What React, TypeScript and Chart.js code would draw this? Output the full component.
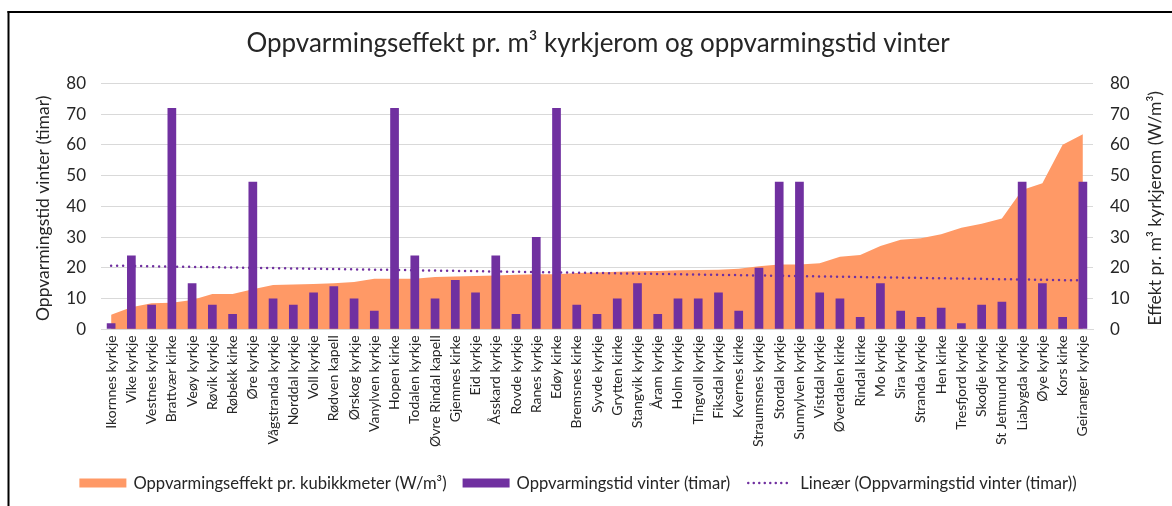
import React, { useEffect, useRef } from "react";
import { Chart, registerables } from "chart.js";

Chart.register(...registerables);

const categories = [
  "Ikornnes kyrkje", "Vike kyrkje", "Vestnes kyrkje", "Brattvær kirke", "Veøy kyrkje",
  "Røvik kyrkje", "Røbekk kirke", "Øre kyrkje", "Vågstranda kyrkje", "Norddal kyrkje",
  "Voll kyrkje", "Rødven kapell", "Ørskog kyrkje", "Vanylven kyrkje", "Hopen kirke",
  "Todalen kyrkje", "Øvre Rindal kapell", "Gjemnes kirke", "Eid kyrkje", "Åsskard kyrkje",
  "Rovde kyrkje", "Ranes kyrkje", "Edøy kirke", "Bremsnes kirke", "Syvde kyrkje",
  "Grytten kirke", "Stangvik kyrkje", "Åram kyrkje", "Holm kyrkje", "Tingvoll kyrkje",
  "Fiksdal kyrkje", "Kvernes kirke", "Straumsnes kyrkje", "Stordal kyrkje", "Sunnylven kyrkje",
  "Vistdal kyrkje", "Øverdalen kirke", "Rindal kirke", "Mo kyrkje", "Sira kyrkje",
  "Stranda kyrkje", "Hen kirke", "Tresfjord kyrkje", "Skodje kyrkje", "St Jetmund kyrkje",
  "Liabygda kyrkje", "Øye kyrkje", "Kors kirke", "Geiranger kyrkje",
];

const heatingHours = [
  2, 24, 8, 72, 15, 8, 5, 48, 10, 8,
  12, 14, 10, 6, 72, 24, 10, 16, 12, 24,
  5, 30, 72, 8, 5, 10, 15, 5, 10, 10,
  12, 6, 20, 48, 48, 12, 10, 4, 15, 6,
  4, 7, 2, 8, 9, 48, 15, 4, 48,
];

const effectPerM3 = [
  4.7, 7.2, 8.5, 8.6, 9.5, 11.5, 11.5, 13.0, 14.4, 14.6,
  14.7, 15.0, 15.4, 16.4, 16.4, 16.4, 17.0, 17.2, 17.3, 17.5,
  17.7, 17.9, 17.9, 18.3, 18.5, 18.7, 18.9, 19.0, 19.2, 19.3,
  19.4, 19.7, 20.5, 21.1, 21.1, 21.5, 23.6, 24.2, 27.1, 29.1,
  29.6, 30.9, 33.0, 34.3, 36.0, 45.3, 47.5, 60.0, 63.4,
];

// Linear trendline end values (first and last category)
const trendEnds = [20.7, 15.9];

const titleText = "Oppvarmingseffekt pr. m³ kyrkjerom og oppvarmingstid vinter";
const leftAxisTitle = "Oppvarmingstid vinter (timar)";
const rightAxisTitle = "Effekt pr. m³ kyrkjerom (W/m³)";
const seriesNames = [
  "Oppvarmingseffekt pr. kubikkmeter (W/m³)",
  "Oppvarmingstid vinter (timar)",
  "Lineær (Oppvarmingstid vinter (timar))",
];
const axisMin = 0;
const axisMax = 80;
const axisStep = 10;

const ORANGE = "#FF9966";
const PURPLE = "#7030A0";
const TEXT = "#262626";
const GRID = "#d9d9d9";
const FONT = 'Lato, "Open Sans", sans-serif';

const decor = {
  id: "decor",
  beforeDraw(chart: any) {
    const ctx = chart.ctx;
    ctx.save();
    ctx.fillStyle = "#ffffff";
    ctx.fillRect(0, 0, chart.width, chart.height);
    ctx.fillStyle = "#000000";
    ctx.fillRect(7.5, 11, chart.width - 7.5, 2);
    ctx.fillRect(7.5, 11, 2, chart.height - 11);
    ctx.restore();
  },
  afterDraw(chart: any) {
    const { ctx, chartArea } = chart;
    const cy = (chartArea.top + chartArea.bottom) / 2 + 2;
    ctx.save();
    ctx.font = `17.5px ${FONT}`;
    ctx.fillStyle = TEXT;
    ctx.textAlign = "center";
    ctx.textBaseline = "middle";
    const drawRot = (text: string, x: number, y: number) => {
      ctx.save();
      ctx.translate(x, y);
      ctx.rotate(-Math.PI / 2);
      ctx.fillText(text, 0, 0);
      ctx.restore();
    };
    drawRot(leftAxisTitle, 43, cy);
    drawRot(rightAxisTitle, 1155, cy);

    // legend
    const ds = chart.data.datasets;
    ctx.font = `16.6px ${FONT}`;
    ctx.textAlign = "left";
    const keyW = 47;
    const keyGap = 7;
    const itemGap = 16;
    const widths = seriesNames.map((t) => ctx.measureText(t).width);
    const total = widths.reduce((a, w) => a + keyW + keyGap + w, 0) + itemGap * (seriesNames.length - 1);
    let x = 578 - total / 2;
    const ly = 483;
    seriesNames.forEach((name, i) => {
      if (i < 2) {
        ctx.fillStyle = ds[i].backgroundColor;
        ctx.fillRect(x, ly - 4.5, keyW, 9);
      } else {
        ctx.save();
        ctx.strokeStyle = ds[i].borderColor;
        ctx.lineWidth = 2.5;
        ctx.lineCap = "round";
        ctx.setLineDash([0, 5.5]);
        ctx.beginPath();
        ctx.moveTo(x + 2, ly);
        ctx.lineTo(x + keyW - 2, ly);
        ctx.stroke();
        ctx.restore();
      }
      ctx.fillStyle = TEXT;
      ctx.fillText(name, x + keyW + keyGap, ly + 1);
      x += keyW + keyGap + widths[i] + itemGap;
    });
    ctx.restore();
  },
};

export default function App() {
  const canvasRef = useRef<HTMLCanvasElement | null>(null);

  useEffect(() => {
    if (!canvasRef.current) return;
    const chart = new Chart(canvasRef.current, {
      type: "bar",
      data: {
        labels: categories,
        datasets: [
          {
            type: "line",
            label: seriesNames[0],
            data: effectPerM3,
            yAxisID: "y1",
            fill: "origin",
            backgroundColor: ORANGE,
            borderColor: ORANGE,
            borderWidth: 0,
            pointRadius: 0,
            tension: 0,
            order: 3,
          } as any,
          {
            type: "bar",
            label: seriesNames[1],
            data: heatingHours,
            yAxisID: "y",
            backgroundColor: PURPLE,
            barPercentage: 0.43,
            categoryPercentage: 1,
            order: 2,
          } as any,
          {
            type: "line",
            label: seriesNames[2],
            data: [
              { x: categories[0], y: trendEnds[0] },
              { x: categories[categories.length - 1], y: trendEnds[1] },
            ],
            yAxisID: "y",
            borderColor: PURPLE,
            borderWidth: 2.5,
            borderDash: [0, 6],
            borderCapStyle: "round",
            pointRadius: 0,
            fill: false,
            order: 1,
          } as any,
        ],
      },
      options: {
        animation: false,
        responsive: false,
        maintainAspectRatio: false,
        layout: { padding: { left: 24, right: 0, top: 0, bottom: 46.7 } },
        plugins: {
          title: {
            display: true,
            text: titleText,
            color: TEXT,
            font: { family: FONT, size: 26, weight: "normal" },
            padding: { top: 28.5, bottom: 23.6 },
          },
          legend: { display: false },
          tooltip: { enabled: false },
        },
        scales: {
          x: {
            grid: { display: false, drawTicks: false },
            border: { display: true, color: GRID, width: 1 },
            ticks: {
              autoSkip: false,
              maxRotation: 90,
              minRotation: 90,
              padding: 6,
              color: TEXT,
              font: { family: FONT, size: 14 },
            },
            afterFit: (s: any) => { s.height = 130; },
          },
          y: {
            position: "left",
            min: axisMin,
            max: axisMax,
            ticks: { stepSize: axisStep, padding: 15, color: TEXT, font: { family: FONT, size: 17 } },
            grid: { color: GRID, lineWidth: 1, drawTicks: false },
            border: { display: false },
            afterFit: (s: any) => { s.width = 77; },
          },
          y1: {
            position: "right",
            min: axisMin,
            max: axisMax,
            ticks: { stepSize: axisStep, padding: 17, color: TEXT, font: { family: FONT, size: 17 } },
            grid: { display: false, drawTicks: false },
            border: { display: false },
            afterFit: (s: any) => { s.width = 79; },
          },
        },
      } as any,
      plugins: [decor],
    });
    return () => chart.destroy();
  }, []);

  return (
    <div style={{ position: "fixed", left: 0, top: 0, width: 1172, height: 506, background: "#fff" }}>
      <canvas ref={canvasRef} width={1172} height={506} style={{ width: 1172, height: 506, display: "block" }} />
    </div>
  );
}
